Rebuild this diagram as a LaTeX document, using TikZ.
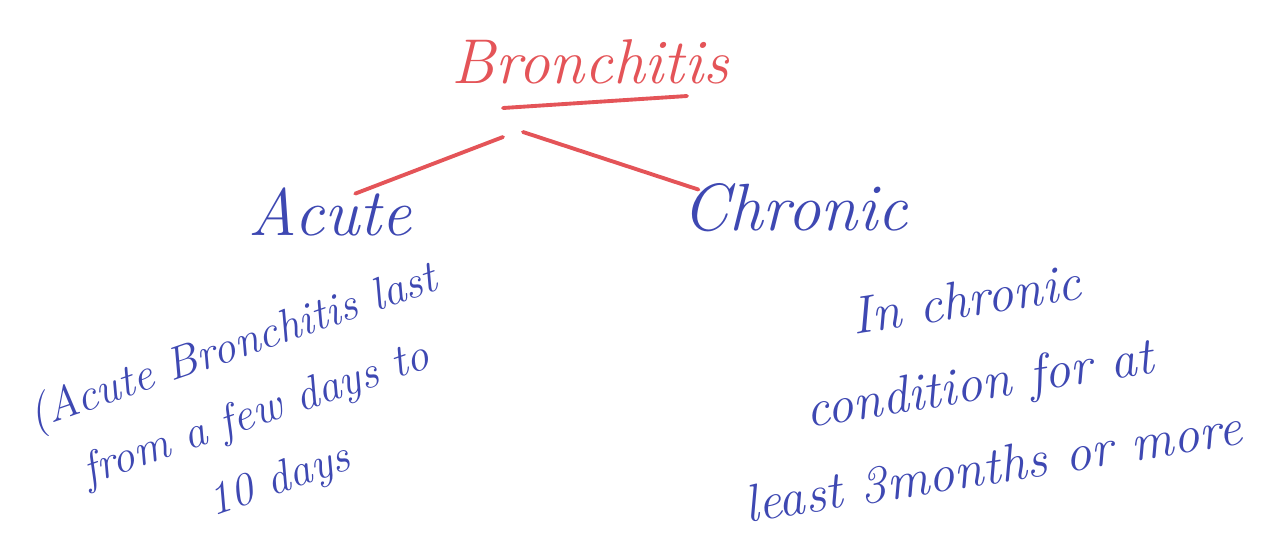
\documentclass[tikz,border=0pt]{standalone}
\usepackage{tikz}
\usetikzlibrary{positioning}
\definecolor{penred}{RGB}{228,84,88}
\definecolor{penblue}{RGB}{62,72,178}
\tikzset{
  heading/.style={text=penred,inner sep=1pt,
                  font=\fontsize{18}{20}\selectfont\itshape},
  kind/.style={text=penblue,inner sep=1pt,
               font=\fontsize{19}{21}\selectfont\itshape},
  note/.style={text=penblue,align=center,inner sep=0pt},
  branch/.style={draw=penred,line width=1.1pt,line cap=round},
}

\begin{document}
\begin{tikzpicture}[
    x=0.01cm,y=-0.01cm,
    ]
  % page frame, pixel coordinates
  \useasboundingbox (0,0) rectangle (1273,557);

  \node[heading] (title) at (590,62) {Bronchitis};
  \draw[branch] ([shift={(-87,46)}]title.center)
      -- ([shift={(97,34)}]title.center);

  \node[kind] (acute) at (330,212) {Acute};
  \node[kind] (chronic) at (795,208) {Chronic};

  % fork under the title
  \coordinate (forkL) at (503,137);
  \coordinate (forkR) at (523,132);
  \draw[branch] (forkL) -- ([xshift=-6mm,yshift=-1mm]acute.north east);
  \draw[branch] (forkR) -- ([xshift=2mm,yshift=-1mm]chronic.north west);

  \node[note,rotate=19,font=\fontsize{13}{20}\selectfont\itshape]
      (acuteNote) [below=5mm of acute,xshift=-11mm]
      {(Acute Bronchitis last\\from a few days to\\10 days};
  \node[note,rotate=9,font=\fontsize{15}{24}\selectfont\itshape]
      (chronicNote) [below=7mm of chronic,xshift=17mm]
      {In chronic\\condition for at\\least 3months or more};
\end{tikzpicture}
\end{document}
